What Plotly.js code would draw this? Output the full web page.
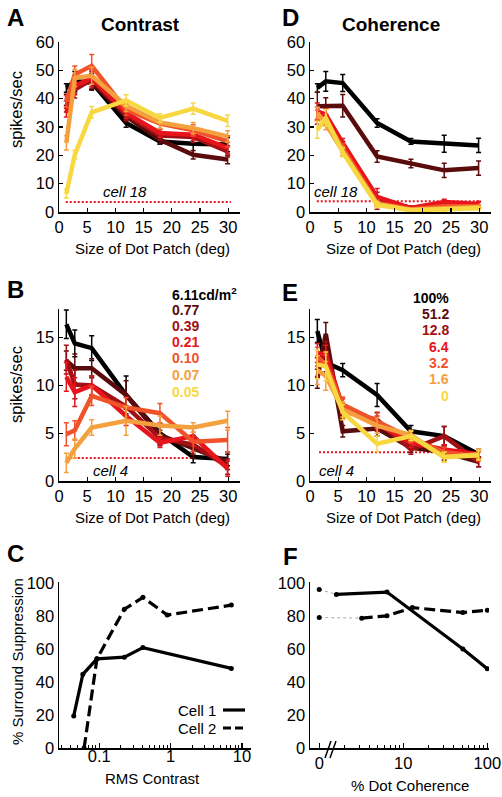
<!DOCTYPE html>
<html><head><meta charset="utf-8">
<script src="https://cdn.plot.ly/plotly-3.0.1.min.js"></script>
<style>body{margin:0;padding:0;background:#fff}#plot{width:502px;height:797px}</style>
</head><body><div id="plot"></div>
<script>
// ---------- data ----------
const patchSizes = [1.3, 2.8, 5.8, 11.9, 17.9, 23.8, 29.9];
const contrastLabels = ['6.11cd/m<sup>2</sup>', '0.77', '0.39', '0.21', '0.10', '0.07', '0.05'];
const coherenceLabels = ['100%', '51.2', '12.8', '6.4', '3.2', '1.6', '0'];
const seriesColors = ['#000000', '#5a0b0b', '#a01014', '#e8141c', '#f0522a', '#f5a03e', '#f8d840'];

// Panel A: contrast, cell 18 (spikes/sec)
const ratesA = [
  [43.8, 46.1, 45.8, 31.4, 24.9, 24.1, 23.8],
  [39.6, 45.0, 46.0, 33.8, 25.5, 20.2, 18.5],
  [37.3, 43.2, 46.7, 34.4, 27.0, 26.5, 21.4],
  [35.0, 44.4, 47.3, 35.0, 27.9, 27.3, 22.6],
  [39.0, 48.5, 51.6, 36.1, 31.2, 28.8, 24.9],
  [24.4, 47.3, 48.1, 37.5, 31.6, 29.6, 26.7],
  [6.4, 20.2, 35.2, 39.4, 33.2, 36.5, 32.2]
];
const errA = [
  [1.5, 3.5, 2.5, 1.5, 1.0, 3.5, 2.5],
  [2.0, 3.0, 3.0, 2.0, 1.5, 1.5, 1.5],
  [2.0, 3.0, 3.0, 2.0, 1.5, 2.0, 2.0],
  [1.5, 3.0, 3.0, 2.0, 1.5, 2.0, 2.0],
  [2.0, 3.0, 4.0, 2.0, 2.0, 2.0, 2.0],
  [2.5, 3.0, 3.0, 2.0, 2.0, 2.0, 2.0],
  [1.5, 1.5, 2.0, 2.0, 1.5, 2.0, 2.0]
];
const baselineA = 3.5;

// Panel D: coherence, cell 18
const ratesD = [
  [43.8, 46.1, 45.5, 31.4, 24.9, 24.1, 23.5],
  [37.3, 37.3, 37.5, 19.6, 17.1, 14.7, 15.5],
  [34.0, 33.5, 23.5, 4.0, 1.5, 2.5, 2.5],
  [35.5, 34.4, 24.4, 5.3, 1.4, 3.5, 2.8],
  [34.0, 32.5, 22.5, 3.2, 1.0, 2.0, 2.0],
  [35.0, 31.0, 21.5, 2.8, 0.8, 1.2, 1.8],
  [29.0, 33.2, 21.0, 2.5, 0.6, 0.8, 1.3]
];
const errD = [
  [1.5, 3.5, 3.0, 1.5, 1.0, 3.0, 2.5],
  [5.0, 3.0, 4.0, 2.0, 1.5, 2.5, 2.5],
  [3.0, 3.0, 1.5, 3.0, 0.5, 1.0, 1.0],
  [3.0, 2.0, 1.5, 3.0, 0.5, 1.0, 1.0],
  [2.0, 2.0, 1.5, 1.0, 0.5, 0.5, 0.5],
  [2.0, 2.0, 1.5, 1.0, 0.5, 0.5, 0.5],
  [3.0, 3.0, 1.5, 1.0, 0.5, 0.5, 0.5]
];
const baselineD = 3.8;

// Panel B: contrast, cell 4 (0.05 not shown)
const ratesB = [
  [16.4, 14.4, 13.9, 9.0, 5.0, 2.5, 2.3],
  [12.6, 11.8, 11.8, 9.0, 4.8, 3.4, 2.0],
  [12.7, 10.1, 10.0, 7.8, 4.5, 3.8, 1.5],
  [10.9, 9.3, 10.0, 6.8, 4.0, 4.7, 1.3],
  [4.9, 5.3, 8.9, 7.7, 7.1, 4.1, 4.3],
  [1.9, 3.4, 5.6, 6.3, 5.8, 5.6, 6.3]
];
const errB = [
  [1.5, 1.4, 1.3, 2.0, 1.0, 0.6, 0.7],
  [1.0, 1.5, 1.0, 1.5, 1.0, 1.0, 0.8],
  [1.5, 1.5, 1.0, 1.0, 0.8, 1.0, 0.8],
  [1.5, 1.5, 1.0, 1.0, 0.5, 1.0, 0.8],
  [1.2, 1.0, 1.0, 1.0, 1.0, 1.0, 1.3],
  [1.0, 1.0, 0.8, 1.5, 1.0, 0.5, 1.0]
];
const baselineB = 2.4;

// Panel E: coherence, cell 4
const ratesE = [
  [15.7, 12.4, 11.6, 9.0, 5.2, 4.7, 2.8],
  [10.7, 15.4, 5.2, 5.5, 3.5, 3.0, 2.0],
  [11.9, 13.6, 7.3, 6.4, 3.3, 4.7, 2.0],
  [13.4, 13.2, 7.8, 6.0, 4.0, 3.3, 2.8],
  [13.0, 12.2, 8.0, 6.3, 4.5, 3.0, 2.6],
  [11.6, 11.0, 7.5, 5.8, 4.8, 2.5, 2.8],
  [12.2, 12.0, 7.2, 3.9, 4.7, 2.5, 2.7]
];
const errE = [
  [1.2, 1.0, 0.7, 1.2, 0.6, 1.0, 0.5],
  [1.0, 1.2, 0.6, 0.8, 0.5, 0.8, 0.5],
  [1.0, 1.0, 0.8, 0.8, 0.5, 1.0, 0.5],
  [1.0, 1.0, 0.8, 0.8, 0.5, 0.5, 0.5],
  [1.0, 1.0, 0.8, 0.8, 0.5, 0.5, 0.5],
  [1.5, 1.5, 0.8, 0.8, 0.5, 0.5, 0.5],
  [1.5, 1.5, 0.8, 0.8, 0.5, 0.5, 0.5]
];
const baselineE = 3.0;

// Panel C: surround suppression vs RMS contrast
const rmsCell1 = [0.044, 0.059, 0.093, 0.225, 0.41, 7.1];
const supCell1 = [19.4, 44.6, 54.0, 55.0, 60.8, 48.2];
const rmsCell2 = [0.0615, 0.093, 0.225, 0.41, 0.9, 7.1];
const supCell2 = [0, 54.0, 84.0, 91.2, 80.5, 86.5];

// Panel F: surround suppression vs % dot coherence
const cohCell1 = [0, 1.6, 6.4, 51.2, 100];
const supF1 = [96, 93, 94.4, 60, 48];
const cohCell2 = [0, 3.2, 6.4, 12.8, 51.2, 100];
const supF2 = [79, 78.6, 80, 85, 82, 83.4];

// ---------- helpers ----------
const W = 502, H = 797;
const px = x => x / W;
const py = y => 1 - y / H;
const FONT = 'Liberation Sans, Arial, Helvetica, sans-serif';

function axisBase(extra) {
  return Object.assign({
    showline: true, linecolor: '#000', linewidth: 1.5,
    ticks: 'inside', ticklen: 4, tickwidth: 1.2, tickcolor: '#000',
    showgrid: false, zeroline: false,
    tickfont: {family: FONT, size: 16.5, color: '#000'},
    fixedrange: true
  }, extra);
}

const traces = [];
function addRatePanel(rates, errs, colors, xa, ya, baseline, baseX) {
  traces.push({
    x: baseX, y: [baseline, baseline], xaxis: xa, yaxis: ya, mode: 'lines',
    line: {color: '#e8141c', width: 2, dash: '2px,2px'}, hoverinfo: 'skip'
  });
  rates.forEach((r, i) => {
    traces.push({
      x: patchSizes, y: r, xaxis: xa, yaxis: ya, mode: 'lines',
      line: {color: colors[i], width: 4.5},
      error_y: {type: 'data', array: errs[i], color: colors[i], thickness: 1.5, width: 2.5},
      hoverinfo: 'skip'
    });
  });
}
addRatePanel(ratesA, errA, seriesColors, 'x', 'y', baselineA, [1.2, 30.5]);
addRatePanel(ratesD, errD, seriesColors, 'x2', 'y2', baselineD, [1.2, 30.2]);
addRatePanel(ratesB, errB, seriesColors.slice(0, 6), 'x3', 'y3', baselineB, [1.2, 30.0]);
addRatePanel(ratesE, errE, seriesColors, 'x4', 'y4', baselineE, [1.6, 30.2]);

// Panel C
traces.push({x: rmsCell1, y: supCell1, xaxis: 'x5', yaxis: 'y5', mode: 'lines+markers',
  line: {color: '#000', width: 3.2}, marker: {color: '#000', size: 5}, hoverinfo: 'skip'});
traces.push({x: rmsCell2, y: supCell2, xaxis: 'x5', yaxis: 'y5', mode: 'lines+markers',
  line: {color: '#000', width: 3.2, dash: '11px,5px'}, marker: {color: '#000', size: 5}, hoverinfo: 'skip'});

// Panel F (0% coherence drawn at the axis break position, labelled "0")
const mapCoh = c => (c === 0 ? 1 : c);
traces.push({x: cohCell1.slice(0, 2).map(mapCoh), y: supF1.slice(0, 2), xaxis: 'x6', yaxis: 'y6', mode: 'lines',
  line: {color: '#aaaaaa', width: 1, dash: '3px,3px'}, hoverinfo: 'skip'});
traces.push({x: cohCell2.slice(0, 2).map(mapCoh), y: supF2.slice(0, 2), xaxis: 'x6', yaxis: 'y6', mode: 'lines',
  line: {color: '#aaaaaa', width: 1, dash: '3px,3px'}, hoverinfo: 'skip'});
traces.push({x: [mapCoh(cohCell1[0])], y: [supF1[0]], xaxis: 'x6', yaxis: 'y6', mode: 'markers',
  marker: {color: '#000', size: 5}, hoverinfo: 'skip'});
traces.push({x: [mapCoh(cohCell2[0])], y: [supF2[0]], xaxis: 'x6', yaxis: 'y6', mode: 'markers',
  marker: {color: '#000', size: 5}, hoverinfo: 'skip'});
traces.push({x: cohCell1.slice(1), y: supF1.slice(1), xaxis: 'x6', yaxis: 'y6', mode: 'lines+markers',
  line: {color: '#000', width: 3.2}, marker: {color: '#000', size: 5}, hoverinfo: 'skip'});
traces.push({x: cohCell2.slice(1), y: supF2.slice(1), xaxis: 'x6', yaxis: 'y6', mode: 'lines+markers',
  line: {color: '#000', width: 3.2, dash: '11px,5px'}, marker: {color: '#000', size: 5}, hoverinfo: 'skip'});

// minor ticks for log axes
const minorC = [], minorF = [];
[0.01, 0.1, 1].forEach(d => { for (let k = 2; k <= 9; k++) minorC.push(+(k * d).toFixed(4)); });
[1, 10].forEach(d => { for (let k = 2; k <= 9; k++) minorF.push(k * d); });

const sizeTicks = [0, 5, 10, 15, 20, 25, 30];
const topRow = [py(212), py(42)];
const midRow = [py(481), py(309)];
const botRow = [py(748), py(582)];
const leftCol = [px(59), px(240)];
const rightCol = [px(310), px(491)];

const layout = {
  width: W, height: H, margin: {l: 0, r: 0, t: 0, b: 0},
  paper_bgcolor: '#fff', plot_bgcolor: 'rgba(0,0,0,0)', showlegend: false,
  font: {family: FONT, size: 15, color: '#000'},
  xaxis: axisBase({domain: leftCol, range: [0, 32.1], tickvals: sizeTicks, anchor: 'y'}),
  yaxis: axisBase({domain: topRow, range: [0, 60], tickvals: [0, 10, 20, 30, 40, 50, 60], anchor: 'x'}),
  xaxis2: axisBase({domain: rightCol, range: [0, 32.1], tickvals: sizeTicks, anchor: 'y2'}),
  yaxis2: axisBase({domain: topRow, range: [0, 60], tickvals: [0, 10, 20, 30, 40, 50, 60], anchor: 'x2'}),
  xaxis3: axisBase({domain: leftCol, range: [0, 32.1], tickvals: sizeTicks, anchor: 'y3'}),
  yaxis3: axisBase({domain: midRow, range: [0, 18], tickvals: [0, 5, 10, 15], anchor: 'x3'}),
  xaxis4: axisBase({domain: rightCol, range: [0, 32.1], tickvals: sizeTicks, anchor: 'y4'}),
  yaxis4: axisBase({domain: midRow, range: [0, 18], tickvals: [0, 5, 10, 15], anchor: 'x4'}),
  xaxis5: axisBase({domain: [px(59), px(251)], type: 'log', range: [-1.563, 1.127],
    tickvals: [0.1, 1, 10], ticktext: ['0.1', '1', '10'], ticklen: 5, anchor: 'y5', ticklabelstandoff: -7,
    minor: {tickvals: minorC, ticks: 'inside', ticklen: 3, tickwidth: 1, tickcolor: '#000'}}),
  yaxis5: axisBase({domain: botRow, range: [0, 100.5], tickvals: [0, 20, 40, 60, 80, 100], anchor: 'x5', ticks: ''}),
  xaxis6: axisBase({domain: [px(310), px(489)], type: 'log', range: [-0.11, 2.02],
    tickvals: [1, 10, 100], ticktext: ['0', '10', '100'], ticklen: 5, anchor: 'y6',
    minor: {tickvals: minorF, ticks: 'inside', ticklen: 3, tickwidth: 1, tickcolor: '#000'}}),
  yaxis6: axisBase({domain: botRow, range: [0, 100.5], tickvals: [0, 20, 40, 60, 80, 100], anchor: 'x6', ticks: ''}),
  annotations: [],
  shapes: []
};

function ann(text, x, y, opts) {
  layout.annotations.push(Object.assign({
    text: text, x: px(x), y: py(y), xref: 'paper', yref: 'paper',
    xanchor: 'center', yanchor: 'middle', showarrow: false,
    font: {family: FONT, size: 15, color: '#000'}
  }, opts || {}));
}
// panel letters
[['A', 15, 17], ['D', 290, 17], ['B', 15, 290], ['E', 290, 292], ['C', 15, 553], ['F', 290, 556]]
  .forEach(l => ann('<b>' + l[0] + '</b>', l[1], l[2], {font: {family: FONT, size: 24, color: '#000'}}));
// titles
ann('<b>Contrast</b>', 140, 25, {font: {family: FONT, size: 19, color: '#000'}});
ann('<b>Coherence</b>', 391, 25, {font: {family: FONT, size: 19, color: '#000'}});
// axis titles
ann('spikes/sec', 16, 110, {textangle: -90, font: {family: FONT, size: 16.5, color: '#000'}});
ann('spikes/sec', 16, 385, {textangle: -90, font: {family: FONT, size: 16.5, color: '#000'}});
ann('Size of Dot Patch (deg)', 152, 248);
ann('Size of Dot Patch (deg)', 403, 248);
ann('Size of Dot Patch (deg)', 152, 517);
ann('Size of Dot Patch (deg)', 403, 517);
ann('% Surround Suppression', 17, 662, {textangle: -90});
ann('RMS Contrast', 152, 778);
ann('% Dot Coherence', 410, 785);
// cell labels
ann('<i>cell 18</i>', 125, 192);
ann('<i>cell 18</i>', 336, 191);
ann('<i>cell 4</i>', 110, 470);
ann('<i>cell 4</i>', 336, 470);
// series labels
const bY = [294, 310, 326, 342, 358, 375, 392];
contrastLabels.forEach((t, i) => ann('<b>' + t + '</b>', 170, bY[i],
  {xanchor: 'left', font: {family: FONT, size: 14, color: seriesColors[i]}}));
const eY = [298, 314, 330, 347, 363, 379, 396];
coherenceLabels.forEach((t, i) => ann('<b>' + t + '</b>', 451, eY[i],
  {xanchor: 'right', font: {family: FONT, size: 14, color: seriesColors[i]}}));
// legend C
ann('Cell 1', 218, 710, {xanchor: 'right'});
ann('Cell 2', 218, 728, {xanchor: 'right'});
layout.shapes.push({type: 'line', xref: 'paper', yref: 'paper', x0: px(223), x1: px(245), y0: py(710), y1: py(710),
  line: {color: '#000', width: 3.2}});
layout.shapes.push({type: 'line', xref: 'paper', yref: 'paper', x0: px(223), x1: px(245), y0: py(728), y1: py(728),
  line: {color: '#000', width: 3.2, dash: '8px,4px'}});
// axis break marks in F
layout.shapes.push({type: 'line', xref: 'paper', yref: 'paper', x0: px(325), x1: px(331), y0: py(758), y1: py(741),
  line: {color: '#000', width: 1.5}});
layout.shapes.push({type: 'line', xref: 'paper', yref: 'paper', x0: px(330), x1: px(336), y0: py(758), y1: py(741),
  line: {color: '#000', width: 1.5}});

Plotly.newPlot('plot', traces, layout, {staticPlot: true, displayModeBar: false});
</script>
</body></html>
